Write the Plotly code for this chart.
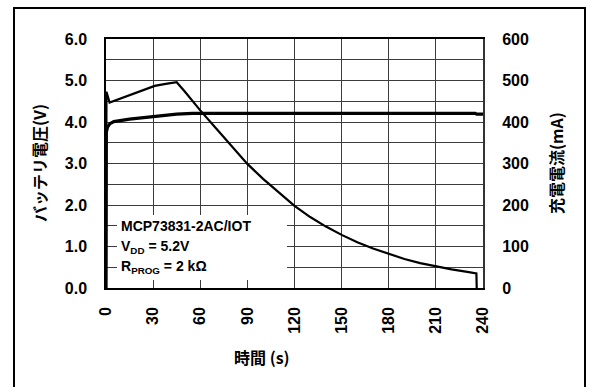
import plotly.graph_objects as go

# ---- data ----
t_voltage = [0, 0.2, 1, 2.5, 5, 15, 30, 45, 55, 100, 150, 200, 235, 236, 240]
v_battery = [0.0, 3.75, 3.88, 3.96, 4.01, 4.07, 4.13, 4.19, 4.21, 4.21, 4.21, 4.21, 4.21, 4.19, 4.19]

t_current = [0, 0.3, 2.3, 10, 20, 31, 38, 45, 50, 60, 70, 80, 90, 100, 110, 120,
             130, 140, 150, 160, 170, 180, 190, 200, 210, 220, 230, 235.8, 236.0]
i_charge = [0, 473, 447, 458, 472, 487, 492, 496, 474, 428, 385, 341, 299, 263, 230, 198,
            171, 148, 128, 110, 95, 82, 70, 60, 52, 45, 39, 35, 0]

x_ticks = [0, 30, 60, 90, 120, 150, 180, 210, 240]
legend_lines = ["MCP73831-2AC/IOT", "V<sub>DD</sub> = 5.2V", "R<sub>PROG</sub> = 2 kΩ"]
legend_levels = [1.5, 1.0, 0.5]

# ---- layout geometry (pixels) ----
W, H = 589, 387
L, R, T, B = 106, 483, 39, 288


def px_x(p):
    return (p - L) / (R - L)


def px_y(p):
    return (B - p) / (B - T)


FONT = "Liberation Sans, Arial, Noto Sans CJK JP, sans-serif"
CJK = "Noto Sans CJK JP, Liberation Sans, sans-serif"
GRID = "#3c3c3c"

fig = go.Figure()
fig.add_trace(go.Scatter(x=t_voltage, y=v_battery, mode="lines",
                         line=dict(color="black", width=3.2), yaxis="y", showlegend=False))
fig.add_trace(go.Scatter(x=t_current, y=i_charge, mode="lines",
                         line=dict(color="black", width=2.2), yaxis="y2", showlegend=False))

fig.update_layout(
    width=W, height=H, autosize=False,
    margin=dict(l=L, r=W - R, t=T, b=H - B, pad=0),
    paper_bgcolor="white", plot_bgcolor="white",
    font=dict(family=FONT, color="black"),
    xaxis=dict(range=[0, 240], tickvals=x_ticks, tickangle=-90,
               tickfont=dict(size=16, family=FONT, weight="bold"),
               showgrid=True, gridcolor=GRID, gridwidth=1,
               showline=True, linecolor="black", linewidth=1.5, mirror=True,
               zeroline=False, ticks="", ticklabelstandoff=11),
    yaxis=dict(range=[0, 6], dtick=1, tickformat=".1f",
               tickfont=dict(size=16, family=FONT, weight="bold"),
               showgrid=True, gridcolor=GRID, gridwidth=1,
               minor=dict(dtick=0.5, showgrid=True, gridcolor=GRID, gridwidth=1),
               showline=True, linecolor="black", linewidth=1.5, mirror=True,
               zeroline=False, ticks="", ticklabelstandoff=14),
    yaxis2=dict(range=[0, 600], dtick=100, overlaying="y", side="right",
                tickfont=dict(size=16, family=FONT, weight="bold"),
                showgrid=False, zeroline=False, showline=True,
                linecolor="#333", linewidth=2, ticks="", ticklabelstandoff=14),
)

# white box behind the condition text
fig.add_shape(type="rect", xref="paper", yref="paper",
              x0=px_x(117), x1=px_x(287), y0=px_y(280), y1=px_y(215),
              fillcolor="white", line=dict(width=0), layer="above")

for txt, lvl in zip(legend_lines, legend_levels):
    fig.add_annotation(x=px_x(119), y=lvl, xref="paper", yref="y", text=txt,
                       showarrow=False, xanchor="left", yanchor="middle",
                       font=dict(size=14, family=FONT, weight="bold", color="black"))

# axis titles
fig.add_annotation(x=px_x(262), y=px_y(357), xref="paper", yref="paper", text="時間 (s)",
                   showarrow=False, xanchor="center", yanchor="middle",
                   font=dict(size=16, family=CJK, weight="bold"))
fig.add_annotation(x=px_x(39), y=px_y(163), xref="paper", yref="paper", text="バッテリ電圧(V)",
                   showarrow=False, textangle=-90, xanchor="center", yanchor="middle",
                   font=dict(size=16, family=CJK, weight="bold"))
fig.add_annotation(x=px_x(556), y=px_y(163), xref="paper", yref="paper", text="充電電流(mA)",
                   showarrow=False, textangle=-90, xanchor="center", yanchor="middle",
                   font=dict(size=16, family=CJK, weight="bold"))

# outer frame
fig.add_shape(type="rect", xref="paper", yref="paper",
              x0=px_x(14), x1=px_x(585), y0=px_y(395), y1=px_y(8),
              line=dict(color="black", width=2), fillcolor="rgba(0,0,0,0)", layer="above")

fig.write_html("out.html")
